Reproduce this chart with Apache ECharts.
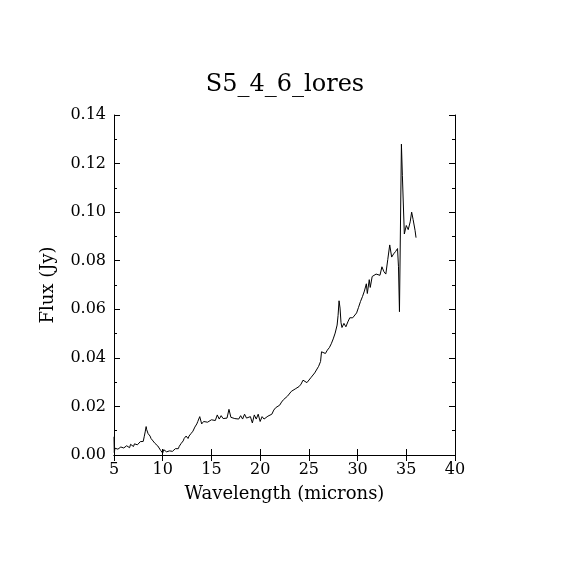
<!DOCTYPE html>
<html><head><meta charset="utf-8">
<script src="https://cdn.jsdelivr.net/npm/echarts@6/dist/echarts.min.js"></script>
<style>html,body{margin:0;padding:0;background:#fff}#c{width:570px;height:570px}</style>
</head><body><div id="c"></div>
<script>
var wavelength = [5.0,5.03,5.1,5.2,5.3,5.4,5.5,5.6,5.7,5.8,5.9,6.0,6.1,6.2,6.3,6.4,6.5,6.6,6.7,6.8,6.9,7.0,7.1,7.2,7.3,7.4,7.5,7.6,7.7,7.8,7.9,8.0,8.1,8.2,8.3,8.35,8.4,8.5,8.6,8.7,8.8,8.9,9.0,9.1,9.2,9.3,9.4,9.5,9.6,9.7,9.8,9.85,9.9,10.0,10.1,10.2,10.3,10.4,10.5,10.6,10.7,10.8,10.9,11.0,11.1,11.2,11.3,11.4,11.5,11.6,11.7,11.8,11.9,12.0,12.1,12.2,12.3,12.4,12.5,12.6,12.7,12.8,12.9,13.0,13.1,13.2,13.3,13.4,13.5,13.6,13.7,13.8,13.85,13.9,14.0,14.2,14.4,14.6,14.8,15.0,15.2,15.4,15.6,15.8,16.0,16.2,16.4,16.6,16.8,17.0,17.2,17.4,17.6,17.8,18.0,18.2,18.4,18.6,18.8,19.0,19.2,19.4,19.6,19.8,20.0,20.2,20.4,20.6,20.8,21.0,21.2,21.4,21.6,21.8,22.0,22.2,22.4,22.6,22.8,23.0,23.2,23.4,23.6,23.8,24.0,24.2,24.4,24.6,24.8,25.0,25.2,25.4,25.6,25.8,26.0,26.1,26.2,26.3,26.5,26.7,26.9,27.1,27.3,27.5,27.7,27.9,28.0,28.1,28.2,28.3,28.4,28.6,28.8,29.0,29.2,29.5,29.7,29.9,30.1,30.3,30.5,30.7,30.9,31.0,31.2,31.3,31.5,31.7,31.9,32.1,32.3,32.5,32.7,32.9,33.1,33.3,33.5,33.7,33.9,34.1,34.2,34.3,34.5,34.6,34.8,35.0,35.2,35.4,35.55,35.7,35.9,36.0];
var flux = [0.0075,0.001,0.0028,0.0022,0.003,0.0024,0.0031,0.0026,0.0033,0.0027,0.0034,0.0029,0.0035,0.003,0.0038,0.0032,0.0036,0.003,0.0044,0.0038,0.0042,0.0035,0.0046,0.004,0.0048,0.0042,0.005,0.0047,0.0055,0.0052,0.0058,0.0056,0.0075,0.0095,0.0117,0.0105,0.0098,0.0088,0.0082,0.0078,0.0068,0.0064,0.0058,0.0055,0.0048,0.0046,0.004,0.0037,0.0033,0.003,0.0018,0.0026,0.0022,0.0008,0.0022,0.0016,0.0021,0.0013,0.0019,0.0011,0.0017,0.0013,0.0019,0.0015,0.0022,0.0018,0.0026,0.0022,0.003,0.0026,0.0036,0.0038,0.0048,0.0045,0.0058,0.0068,0.0072,0.0078,0.0072,0.0068,0.0078,0.008,0.0088,0.009,0.0098,0.0105,0.0115,0.012,0.0128,0.0138,0.0145,0.0158,0.015,0.0155,0.0128,0.0138,0.013,0.0135,0.0138,0.0145,0.0152,0.0142,0.0165,0.0148,0.0162,0.015,0.0155,0.0152,0.0188,0.0155,0.0148,0.015,0.0158,0.0148,0.0162,0.0148,0.0168,0.0152,0.0145,0.0158,0.0132,0.0165,0.0148,0.0168,0.0138,0.0158,0.0148,0.015,0.016,0.0162,0.0168,0.0185,0.0195,0.019,0.0205,0.0218,0.0228,0.0222,0.0242,0.025,0.0262,0.0268,0.0272,0.028,0.0282,0.0292,0.0308,0.0302,0.0298,0.0305,0.0318,0.0325,0.0338,0.0345,0.0365,0.0358,0.0385,0.0425,0.0422,0.0418,0.0432,0.0442,0.0458,0.0478,0.0502,0.0535,0.0575,0.0635,0.0605,0.0545,0.0525,0.0542,0.0528,0.0548,0.0565,0.0565,0.0568,0.0585,0.0608,0.0632,0.0652,0.0675,0.0705,0.0665,0.0722,0.069,0.0735,0.0738,0.0745,0.0748,0.074,0.0775,0.0755,0.0745,0.0805,0.0865,0.0815,0.0828,0.0838,0.085,0.0775,0.059,0.128,0.115,0.091,0.0945,0.0928,0.096,0.1,0.097,0.0925,0.0895];
var xTicks = [5,10,15,20,25,30,35,40];
var yTicks = ['0.00','0.02','0.04','0.06','0.08','0.10','0.12','0.14'];

var FONT = 'DejaVu Serif';
var data = wavelength.map(function(w,i){return [w, flux[i]];});
var chart = echarts.init(document.getElementById('c'), null, {renderer:'canvas'});
var axLine = {show:true, lineStyle:{color:'#000', width:1}};
chart.setOption({
  animation:false,
  backgroundColor:'#fff',
  title:{text:'S5_4_6_lores', left:'center', top:68, textStyle:{fontFamily:FONT, fontWeight:'normal', fontSize:24, color:'#000'}},
  grid:{left:114, right:115, top:115, bottom:115},
  xAxis:[{
    type:'value', min:5, max:40, interval:5, position:'bottom',
    name:'Wavelength (microns)', nameLocation:'middle', nameGap:30,
    nameTextStyle:{fontFamily:FONT, fontSize:18, color:'#000'},
    axisLine:axLine, axisTick:{show:true, inside:true, length:6, lineStyle:{color:'#000'}},
    axisLabel:{fontFamily:FONT, fontSize:16, color:'#000', margin:7, formatter:function(v){return xTicks.indexOf(v)>=0?String(v):'';}},
    splitLine:{show:false}
  },{
    type:'value', min:5, max:40, interval:5, position:'top',
    axisLine:axLine, axisTick:{show:true, inside:true, length:6, lineStyle:{color:'#000'}},
    axisLabel:{show:false}, splitLine:{show:false}
  }],
  yAxis:[{
    type:'value', min:0, max:0.14, interval:0.02, position:'left',
    name:'Flux (Jy)', nameLocation:'middle', nameGap:57, nameRotate:90,
    nameTextStyle:{fontFamily:FONT, fontSize:18, color:'#000'},
    axisLine:axLine, axisTick:{show:true, inside:true, length:6, lineStyle:{color:'#000'}},
    minorTick:{show:true, splitNumber:2, length:3, lineStyle:{color:'#000'}},
    axisLabel:{fontFamily:FONT, fontSize:16, color:'#000', margin:8, formatter:function(v){var i=Math.round(v/0.02);return yTicks[i]||'';}},
    splitLine:{show:false}, minorSplitLine:{show:false}
  },{
    type:'value', min:0, max:0.14, interval:0.02, position:'right',
    axisLine:axLine, axisTick:{show:true, inside:true, length:6, lineStyle:{color:'#000'}},
    minorTick:{show:true, splitNumber:2, length:3, lineStyle:{color:'#000'}},
    axisLabel:{show:false}, splitLine:{show:false}, minorSplitLine:{show:false}
  }],
  series:[{
    type:'line', data:data, xAxisIndex:0, yAxisIndex:0, showSymbol:false, symbol:'none',
    lineStyle:{color:'#000', width:1}, silent:true
  }]
});
</script></body></html>
